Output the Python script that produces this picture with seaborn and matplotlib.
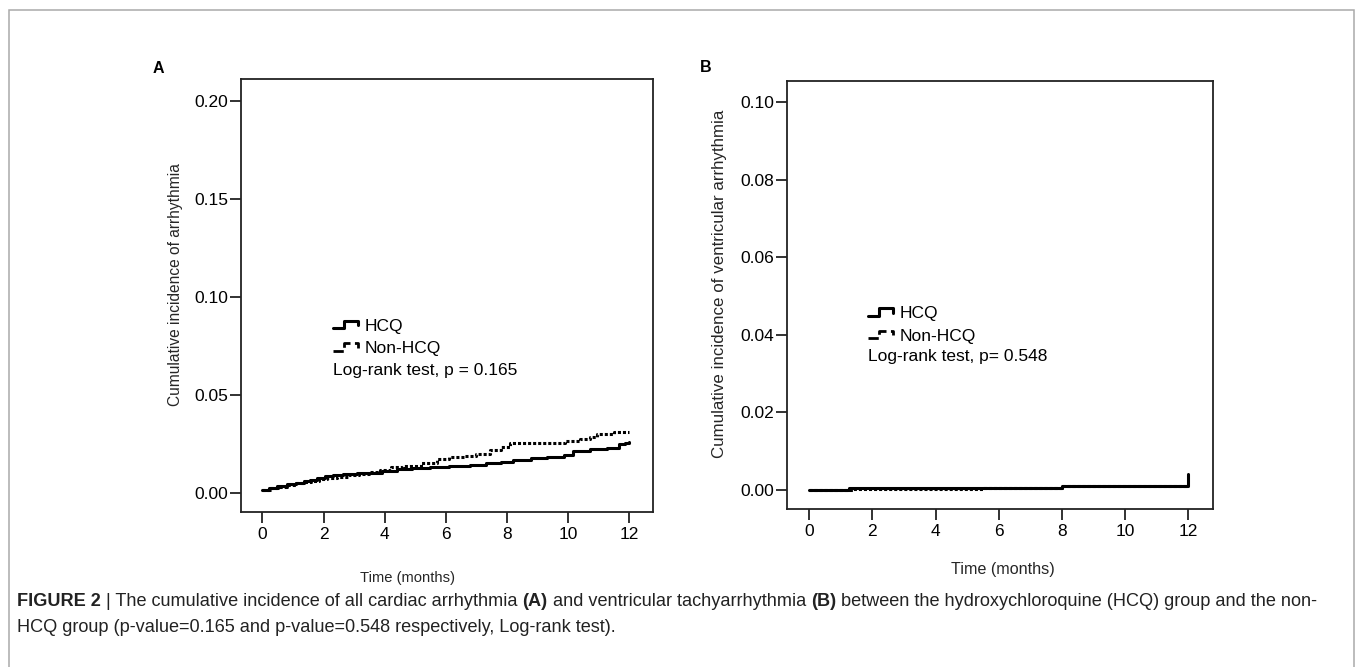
import numpy as np
import pandas as pd
import matplotlib
matplotlib.use("Agg")
import matplotlib.pyplot as plt
import seaborn as sns
from matplotlib.legend_handler import HandlerBase
from matplotlib.lines import Line2D
from matplotlib.patches import Rectangle

# ---- data ----
groups = ["HCQ", "Non-HCQ"]

# Panel A: all cardiac arrhythmia
hcq_a_time = [0, 0.2, 0.46, 0.8, 1.11, 1.35, 1.55, 1.8, 2.04, 2.3, 2.64, 3.1, 3.51, 3.9, 4.39, 4.9, 5.48, 6.1, 6.79, 7.3, 7.8,
              8.21, 8.8, 9.3, 9.85, 10.17, 10.7, 11.27, 11.65, 11.85, 12.0]
hcq_a_cum = [0.0015, 0.0025, 0.0034, 0.0043, 0.0051, 0.0058, 0.0065, 0.0075, 0.0085, 0.0090, 0.0096, 0.0099, 0.0102, 0.0110,
             0.0120, 0.0125, 0.0130, 0.0136, 0.0142, 0.0150, 0.0158, 0.0167, 0.0175, 0.0183, 0.0193, 0.0213, 0.0221, 0.0230,
             0.0247, 0.0255, 0.0260]
non_a_time = [0, 0.25, 0.5, 0.8, 1.1, 1.35, 1.6, 1.85, 2.1, 2.45, 2.8, 3.15, 3.5, 3.85, 4.2, 4.6, 5.2, 5.7, 6.1, 6.6, 7.0, 7.44,
              7.8, 8.1, 8.7, 9.3, 9.9, 10.39, 10.7, 10.94, 11.5, 12.0]
non_a_cum = [0.0015, 0.0022, 0.0030, 0.0039, 0.0048, 0.0054, 0.0060, 0.0068, 0.0075, 0.0082, 0.0090, 0.0098, 0.0105, 0.0116,
             0.0130, 0.0138, 0.0150, 0.0172, 0.0180, 0.0188, 0.0200, 0.0218, 0.0235, 0.0252, 0.0254, 0.0256, 0.0265, 0.0273,
             0.0285, 0.0300, 0.0310, 0.0312]

# Panel B: ventricular tachyarrhythmia
hcq_b_time = [0, 1.26, 8.0, 12.0, 12.0]
hcq_b_cum = [0.0, 0.0005, 0.0010, 0.0010, 0.0042]
non_b_time = [0, 1.4, 5.5, 8.0, 12.0]
non_b_cum = [0.0, 0.0002, 0.0004, 0.0009, 0.0009]

p_text_a = "Log-rank test, p = 0.165"
p_text_b = "Log-rank test, p= 0.548"
ylabel_a = "Cumulative incidence of arrhythmia"
ylabel_b = "Cumulative incidence of ventricular arrhythmia"


def long_df(t1, v1, t2, v2):
    return pd.concat([
        pd.DataFrame({"time": t1, "cum": v1, "group": groups[0]}),
        pd.DataFrame({"time": t2, "cum": v2, "group": groups[1]}),
    ], ignore_index=True)


class StepHandler(HandlerBase):
    # little step glyph, like the SPSS legend
    def create_artists(self, legend, orig_handle, xdescent, ydescent, width, height, fontsize, trans):
        xs = np.array([0, 0.42, 0.42, 0.92, 0.92]) * width - xdescent
        ys = np.array([0.2, 0.2, 0.82, 0.82, 0.45]) * height - ydescent
        line = Line2D(xs, ys, color="black", lw=orig_handle.get_linewidth(),
                      linestyle=orig_handle.get_linestyle())
        line.set_transform(trans)
        return [line]


sns.set_style("ticks")
plt.rcParams["font.family"] = ["Liberation Sans", "DejaVu Sans"]
plt.rcParams["text.color"] = "black"

LW = 2.2
DASH = (1, 0.65)

fig = plt.figure(figsize=(13.55, 6.67), dpi=100)
ax_a = fig.add_axes([0.1779, 0.2328, 0.3041, 0.6488])
ax_b = fig.add_axes([0.5808, 0.2369, 0.3144, 0.6421])


def draw_panel(ax, df, ylim, yticks, ylabel, ylab_size, xlab_size, ylab_x, xlab_pos, leg_anchor, p_text, p_y):
    sns.lineplot(data=df, x="time", y="cum", style="group", dashes={"HCQ": "", "Non-HCQ": DASH},
                 color="black", lw=LW, drawstyle="steps-post", estimator=None, sort=False,
                 legend=False, ax=ax)
    ax.set_xlim(-0.7, 12.78)
    ax.set_ylim(*ylim)
    ax.set_xticks(range(0, 13, 2))
    ax.set_yticks(yticks)
    ax.set_yticklabels([f"{v:.2f}" for v in yticks])
    ax.tick_params(axis="both", direction="out", length=8, width=1.3, color="#222222",
                   labelsize=12.5, labelcolor="black")
    ax.tick_params(axis="y", pad=1)
    ax.tick_params(axis="x", pad=3)
    for s in ax.spines.values():
        s.set_visible(True)
        s.set_linewidth(1.3)
        s.set_color("#222222")
    ax.set_ylabel(ylabel, fontsize=ylab_size)
    ax.set_xlabel("Time (months)", fontsize=xlab_size)
    ax.yaxis.set_label_coords(ylab_x, 0.525)
    ax.xaxis.set_label_coords(*xlab_pos)

    handles = [Line2D([], [], color="black", lw=LW, linestyle="-"),
               Line2D([], [], color="black", lw=2.0, linestyle=(0, (0.6, 0.6)))]
    ax.legend(handles, groups, handler_map={Line2D: StepHandler()}, loc="upper left",
              bbox_to_anchor=leg_anchor, frameon=False, fontsize=12.5, borderpad=0,
              borderaxespad=0, handlelength=1.55, handletextpad=0.3, labelspacing=0.42)
    ax.text(leg_anchor[0], p_y, p_text, transform=ax.transAxes, fontsize=12.5, va="center", ha="left")


draw_panel(ax_a, long_df(hcq_a_time, hcq_a_cum, non_a_time, non_a_cum), (-0.0097, 0.2112),
           [0, 0.05, 0.10, 0.15, 0.20], ylabel_a, 11.2, 10.6, -0.141, (0.403, -0.137),
           (0.223, 0.446), p_text_a, 0.327)
draw_panel(ax_b, long_df(hcq_b_time, hcq_b_cum, non_b_time, non_b_cum), (-0.0049, 0.1055),
           [0, 0.02, 0.04, 0.06, 0.08, 0.10], ylabel_b, 12.2, 11.6, -0.141, (0.507, -0.124),
           (0.19, 0.474), p_text_b, 0.357)

fig.text(153 / 1355, 1 - 68.5 / 667, "A", fontsize=11.5, fontweight="bold", va="center", ha="left")
fig.text(700 / 1355, 1 - 68 / 667, "B", fontsize=11.5, fontweight="bold", va="center", ha="left")

# gray frame around the figure
fig.patches.append(Rectangle((9 / 1355, -0.1), 1345 / 1355, 1.085, transform=fig.transFigure,
                             fill=False, edgecolor="#aaaaaa", lw=1.1))

# caption with bold runs
cap_family = ["Liberation Sans Narrow", "Liberation Sans"]
renderer = fig.canvas.get_renderer()

line1 = [
    ("FIGURE 2", True),
    (" | The cumulative incidence of all cardiac arrhythmia ", False),
    ("(A)", True),
    (" and ventricular tachyarrhythmia ", False),
    ("(B)", True),
    (" between the hydroxychloroquine (HCQ) group and the non-", False),
]
line2 = [("HCQ group (p-value=0.165 and p-value=0.548 respectively, Log-rank test).", False)]


def run_width(txt, bold, size):
    w = []
    for s in ("I" + txt + "I", "II"):
        t = fig.text(0, 0, s, fontsize=size, family=cap_family, fontweight="bold" if bold else "normal")
        w.append(t.get_window_extent(renderer=renderer).width)
        t.remove()
    return (w[0] - w[1]) / fig.bbox.width


# fit the first caption line to the width it has in the figure
full = sum(run_width(t, b, 15) for t, b in line1)
cap_size = 15 * (1303 / 1355) / full


def draw_runs(x, y, runs):
    for txt, bold in runs:
        fig.text(x, y, txt, fontsize=cap_size, family=cap_family, fontweight="bold" if bold else "normal",
                 va="center", ha="left", color="#222222")
        x += run_width(txt, bold, cap_size)


draw_runs(17 / 1355, 1 - 602 / 667, line1)
draw_runs(17 / 1355, 1 - 628 / 667, line2)

fig.savefig("out.png", dpi=100)
